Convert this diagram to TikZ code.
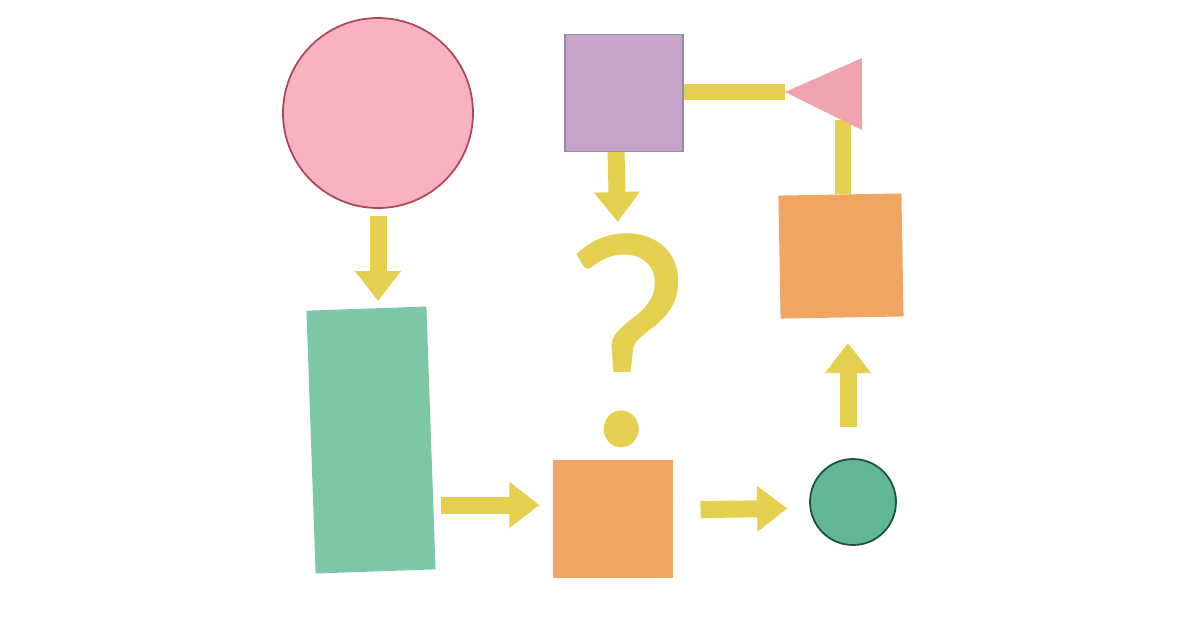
\documentclass[tikz,border=0pt]{standalone}
\usepackage{fontspec}
\setmainfont{Liberation Sans}
\newfontfamily\qfont{Lato}
\usetikzlibrary{
    arrows.meta,
    positioning,
    calc
}
\definecolor{PaperYellow}{RGB}{228,207,78}
\definecolor{PaperPink}{RGB}{249,179,192}
\definecolor{PinkEdge}{RGB}{175,70,90}
\definecolor{PaperMint}{RGB}{124,200,166}
\definecolor{PaperOrange}{RGB}{241,165,99}
\definecolor{PaperJade}{RGB}{96,183,148}
\definecolor{JadeEdge}{RGB}{30,80,60}
\definecolor{PaperLilac}{RGB}{198,164,199}
\definecolor{LilacEdge}{RGB}{140,140,175}
\definecolor{PaperRose}{RGB}{239,163,175}
\tikzset{
  card/.style  = {rectangle, inner sep=0pt, line width=0.3pt},
  disc/.style  = {circle, inner sep=0pt, line width=0.5pt},
  arr/.style   = {-{Triangle[width=0.44cm, length=0.30cm]},
                  line width=0.17cm, PaperYellow},
  link/.style  = {line width=0.16cm, PaperYellow}
}

\begin{document}
\begin{tikzpicture}[x=1cm, y=1cm]
  \useasboundingbox (0,0) rectangle (12,-6.28);
  \fill[white] (0,0) rectangle (12,-6.28);

  \node[disc, fill=PaperPink, draw=PinkEdge, minimum size=1.90cm]
        (pinkcirc) at (3.78,-1.13) {};
  \node[card, fill=PaperMint, minimum width=1.20cm, minimum height=2.63cm,
        rotate=2] (greenrect) at (3.71,-4.40) {};
  \node[card, fill=PaperOrange, minimum width=1.20cm, minimum height=1.18cm]
        (botsq) at (6.13,-5.19) {};
  \node[disc, fill=PaperJade, draw=JadeEdge, minimum size=0.86cm]
        (dot) at (8.53,-5.02) {};
  \node[card, fill=PaperOrange, minimum width=1.23cm, minimum height=1.23cm,
        rotate=1] (rightsq) at (8.41,-2.56) {};
  \node[card, fill=PaperLilac, draw=LilacEdge, minimum width=1.18cm,
        minimum height=1.17cm] (purpsq) at (6.24,-0.93) {};
  \node[PaperYellow, inner sep=0pt, anchor=base,
        font=\qfont\fontsize{84}{84}\selectfont] (qmark) at (6.28,-4.45)
        {\scalebox{0.95}[0.99]{?}};

  % triangle corners
  \coordinate (tritip)  at (7.85,-0.92);
  \coordinate (tritop)  at (8.62,-0.58);
  \coordinate (tribot)  at (8.62,-1.30);
  \coordinate (tribase) at (8.43,-1.20);

  \draw[arr, shorten <=0.07cm, shorten >=0.07cm]
        (pinkcirc.south) -- (pinkcirc.south |- greenrect.north);
  \draw[arr, shorten <=0.10cm, shorten >=0.13cm]
        ([yshift=0.14cm]greenrect.east |- botsq.west) -- ([yshift=0.14cm]botsq.west);
  \draw[arr, shorten <=0.27cm, shorten >=0.22cm]
        ([yshift=0.09cm]botsq.east) -- ([yshift=-0.06cm]dot.west);
  \draw[arr, shorten <=0.31cm, shorten >=0.25cm]
        ([xshift=-0.05cm]dot.north) -- ([xshift=-0.05cm]dot.north |- rightsq.south);
  \draw[arr, shorten >=0.10cm]
        ([xshift=-0.08cm]purpsq.south) -- ++(0.02,-0.80);
  \draw[link] (tribase |- rightsq.north) -- (tribase);
  \draw[link] ([yshift=0.01cm]purpsq.east) -- (tritip);

  \fill[PaperRose] (tritip) -- (tritop) -- (tribot) -- cycle;

\end{tikzpicture}
\end{document}
